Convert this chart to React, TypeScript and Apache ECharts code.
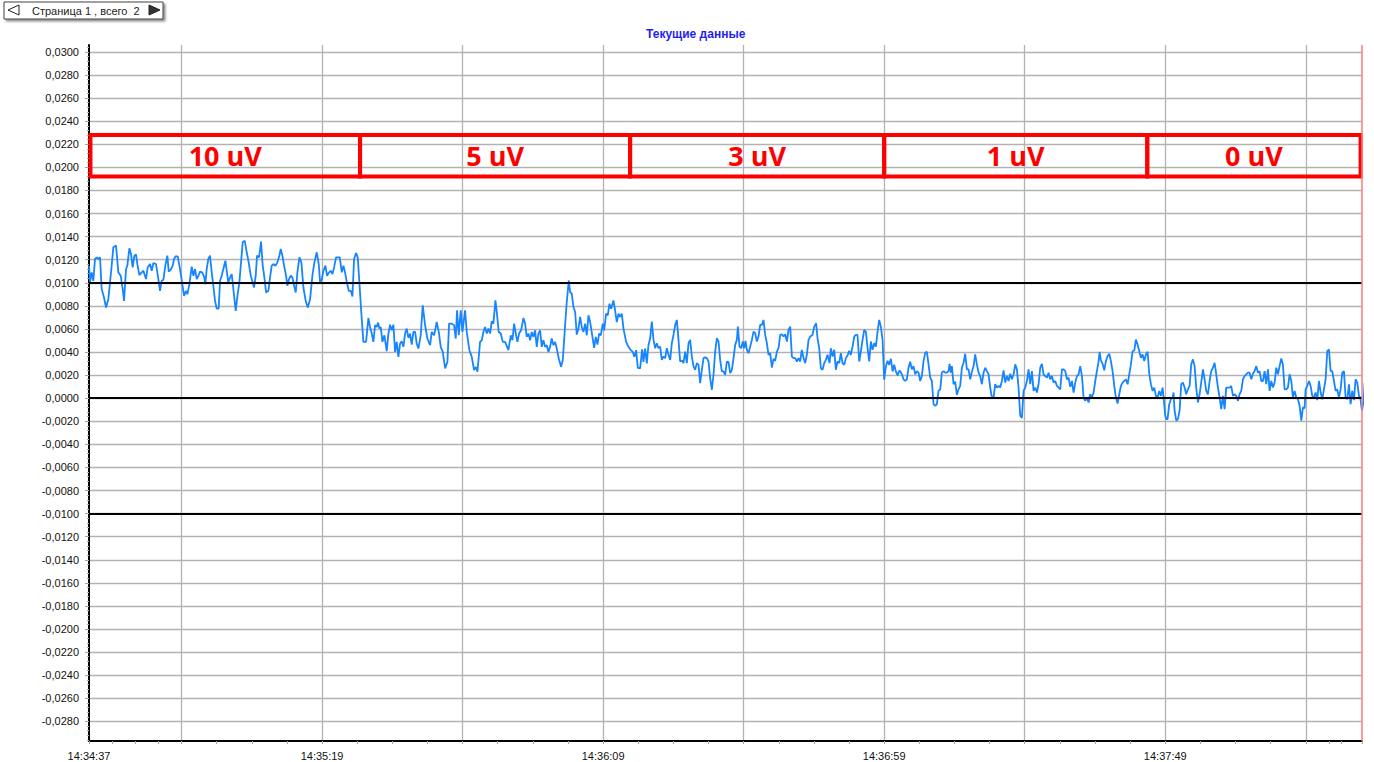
import React, { useEffect, useRef } from "react";
import * as echarts from "echarts";

// Time axis: seconds after 14:34:00
const X_MIN = 37.54; // 14:34:37.5
const X_MAX = 264.0; // 14:38:24
const Y_MIN = -0.0297;
const Y_MAX = 0.0306;

const xLabelTicks = [37.54, 79, 129, 179, 229];
const xGridTicks = [54, 79, 104, 129, 154, 179, 204, 229, 254];
const xStartMinor = [37.54, 41.66, 45.77, 49.89];
const xEndMinor = [258.15, 264];

const yMajorTicks = [
  -0.028, -0.026, -0.024, -0.022, -0.02, -0.018, -0.016, -0.014, -0.012, -0.01,
  -0.008, -0.006, -0.004, -0.002, 0, 0.002, 0.004, 0.006, 0.008, 0.01, 0.012,
  0.014, 0.016, 0.018, 0.02, 0.022, 0.024, 0.026, 0.028, 0.03,
];

const refLines = [0.01, 0, -0.01];

const boxLow = 0.0192;
const boxHigh = 0.0228;
const boxLabels = ["10 uV", "5 uV", "3 uV", "1 uV", "0 uV"];
const boxEdges = [37.8, 85.76, 133.8, 179.0, 225.8, 263.75];

const title = "Текущие данные";
const pagerText = "Страница 1 , всего  2";

// [seconds after 14:34:00, value]
const signal: [number, number][] = [
  [37.54,0.0115],[37.72,0.01003],[38.02,0.0109],[38.31,0.01017],[38.61,0.01206],[38.91,0.0122],[39.2,0.01206],[39.5,0.0122],[39.8,0.00945],[40.21,0.00872],[40.57,0.00786],[40.98,0.00858],[41.28,0.01003],[41.57,0.01148],[41.87,0.01307],[42.35,0.01322],[42.76,0.0109],[43.18,0.01061],[43.53,0.00945],[43.77,0.00843],[44.13,0.01119],[44.36,0.01148],[44.72,0.01299],[45.01,0.01249],[45.31,0.01133],[45.61,0.01235],[45.9,0.01246],[46.14,0.01162],[46.5,0.01067],[46.91,0.0109],[47.21,0.01104],[47.68,0.01032],[47.98,0.01133],[48.4,0.01162],[48.69,0.01104],[48.99,0.01171],[49.46,0.01162],[49.88,0.01032],[50.17,0.0093],[50.47,0.01017],[50.77,0.01026],[51.12,0.01148],[51.48,0.01235],[51.72,0.01096],[52.07,0.01113],[52.43,0.01148],[52.67,0.01206],[52.96,0.01229],[53.32,0.01229],[53.73,0.01119],[54.09,0.01003],[54.45,0.00887],[54.8,0.0093],[55.04,0.00901],[55.4,0.00988],[55.81,0.01139],[56.11,0.01061],[56.4,0.01119],[56.7,0.01032],[57.0,0.01061],[57.29,0.01096],[57.65,0.0109],[58.0,0.01055],[58.24,0.00988],[58.48,0.01119],[58.77,0.01206],[59.07,0.01235],[59.37,0.0109],[59.66,0.00974],[59.96,0.00843],[60.26,0.00777],[60.61,0.00777],[60.85,0.01017],[61.15,0.01061],[61.44,0.01119],[61.8,0.01191],[62.04,0.01104],[62.33,0.01003],[62.63,0.01046],[62.93,0.01075],[63.22,0.00945],[63.64,0.00757],[63.94,0.00887],[64.29,0.01003],[64.59,0.01177],[64.88,0.01351],[65.24,0.01365],[65.6,0.01264],[65.95,0.01177],[66.31,0.01061],[66.66,0.01003],[66.9,0.00959],[67.2,0.01061],[67.43,0.01235],[67.79,0.0122],[68.15,0.01357],[68.44,0.01148],[68.74,0.01046],[69.04,0.00916],[69.45,0.0093],[69.75,0.01046],[70.04,0.01148],[70.34,0.01162],[70.7,0.01148],[71.05,0.01177],[71.41,0.01235],[71.65,0.01293],[71.94,0.01235],[72.24,0.01148],[72.6,0.01061],[72.83,0.00974],[73.13,0.01032],[73.43,0.01061],[73.72,0.01046],[74.02,0.00974],[74.32,0.00916],[74.61,0.0109],[74.97,0.0122],[75.32,0.01177],[75.68,0.00959],[76.09,0.00843],[76.45,0.00786],[76.87,0.00858],[77.28,0.01061],[77.64,0.01177],[78.05,0.01264],[78.41,0.01162],[78.65,0.01003],[78.94,0.01026],[79.24,0.01104],[79.59,0.01148],[79.89,0.01061],[80.25,0.0109],[80.54,0.01104],[80.84,0.01075],[81.14,0.01133],[81.49,0.0122],[81.79,0.0122],[82.15,0.0122],[82.5,0.0109],[82.8,0.01148],[83.09,0.0109],[83.39,0.01009],[83.75,0.0093],[84.1,0.0093],[84.4,0.00881],[84.7,0.01206],[85.05,0.01258],[85.35,0.0122],[85.64,0.01003],[85.94,0.00771],
  [86.35,0.00488],[86.83,0.00488],[87.24,0.00695],[87.54,0.00617],[87.84,0.0056],[88.13,0.00488],[88.43,0.00632],[88.73,0.00617],[88.96,0.00655],[89.2,0.00603],[89.44,0.00617],[89.73,0.00488],[90.09,0.00545],[90.5,0.00407],[90.8,0.0056],[91.1,0.00637],[91.39,0.00588],[91.69,0.00637],[91.99,0.00401],[92.28,0.00488],[92.58,0.00358],[92.88,0.00473],[93.17,0.00494],[93.47,0.00445],[93.77,0.0056],[94.06,0.00603],[94.36,0.00522],[94.66,0.0056],[94.95,0.00465],[95.25,0.00574],[95.55,0.00574],[95.84,0.00473],[96.14,0.0043],[96.55,0.00545],[96.91,0.00804],[97.33,0.00632],[97.74,0.00517],[98.22,0.00459],[98.51,0.00574],[98.93,0.00545],[99.4,0.0066],[99.76,0.00574],[100.11,0.00445],[100.47,0.00401],[100.89,0.00258],[101.3,0.00315],[101.6,0.00646],[102.07,0.00646],[102.49,0.00632],[102.78,0.00517],[103.02,0.00761],[103.32,0.00545],[103.67,0.00761],[103.97,0.00574],[104.44,0.00761],[104.74,0.00574],[105.21,0.00416],[105.63,0.00358],[106.04,0.00243],[106.34,0.00272],[106.64,0.00229],[107.11,0.00488],[107.41,0.00502],[107.7,0.00574],[108.0,0.00617],[108.3,0.0056],[108.6,0.00603],[108.89,0.0056],[109.19,0.00666],[109.48,0.00646],[109.84,0.00847],[110.08,0.00747],[110.43,0.00574],[110.79,0.0056],[111.15,0.00488],[111.56,0.00488],[112.15,0.00416],[112.57,0.00545],[112.87,0.00502],[113.16,0.00646],[113.46,0.0056],[113.75,0.00488],[114.05,0.0056],[114.41,0.00588],[114.82,0.00695],[115.12,0.00646],[115.41,0.00531],[115.71,0.0056],[116.01,0.00502],[116.3,0.00574],[116.6,0.00531],[116.9,0.00588],[117.19,0.00445],[117.49,0.0056],[117.79,0.00588],[118.08,0.00445],[118.38,0.00502],[118.68,0.00445],[118.97,0.00459],[119.27,0.00401],[119.57,0.00445],[119.86,0.00517],[120.16,0.00459],[120.46,0.00488],[120.75,0.0043],[121.11,0.00344],[121.52,0.00272],[121.82,0.00329],[122.24,0.00632],[122.53,0.00833],[122.89,0.0102],[123.13,0.00919],[123.42,0.00905],[123.72,0.0079],[124.02,0.00747],[124.31,0.00551],[124.61,0.00603],[124.91,0.00704],[125.2,0.00617],[125.5,0.00574],[125.8,0.00646],[126.09,0.00545],[126.39,0.00718],[126.69,0.0066],[127.1,0.00531],[127.4,0.00436],[127.69,0.00531],[127.99,0.00465],[128.29,0.0056],[128.58,0.00545],[128.94,0.00646],[129.18,0.00588],[129.53,0.00732],[129.83,0.00718],[130.13,0.00819],[130.42,0.00776],[130.84,0.00847],[131.13,0.00761],[131.43,0.0066],[131.73,0.00732],[132.02,0.00704],[132.32,0.00732],[132.62,0.00603],[133.09,0.00488],[133.51,0.00445],[133.92,0.00416],[134.28,0.00401],[134.57,0.00358],[134.87,0.00416],[135.17,0.00263],[135.58,0.00258],[135.94,0.00424],[136.17,0.00315],[136.47,0.0043],[136.77,0.00301],[137.06,0.00459],
  [137.37,0.00519],[137.66,0.00663],[137.96,0.00505],[138.26,0.00433],[138.55,0.00476],[138.85,0.00433],[139.15,0.00447],[139.44,0.00332],[139.74,0.00361],[140.04,0.00347],[140.33,0.00433],[140.63,0.00376],[140.93,0.00332],[141.22,0.00476],[141.52,0.00548],[141.82,0.00635],[142.11,0.00678],[142.41,0.00505],[142.7,0.00318],[143.0,0.00327],[143.3,0.00304],[143.59,0.00404],[143.89,0.00304],[144.19,0.00476],[144.48,0.00505],[144.78,0.00361],[145.08,0.00275],[145.37,0.00246],[145.67,0.00304],[145.97,0.00289],[146.26,0.00131],[146.56,0.00246],[146.86,0.00347],[147.15,0.00353],[147.45,0.00347],[147.75,0.00318],[148.04,0.00174],[148.34,0.00073],[148.64,0.00203],[148.93,0.00404],[149.23,0.00519],[149.53,0.00491],[149.82,0.00332],[150.12,0.00232],[150.42,0.00232],[150.71,0.00203],[151.01,0.00318],[151.31,0.00312],[151.6,0.00217],[151.9,0.00246],[152.2,0.00347],[152.49,0.00462],[152.79,0.00505],[152.97,0.0062],[153.26,0.00447],[153.56,0.00433],[153.86,0.00491],[154.09,0.00433],[154.33,0.00496],[154.57,0.00419],[154.86,0.0039],[155.16,0.00447],[155.46,0.00505],[155.75,0.00577],[156.05,0.00563],[156.35,0.00491],[156.64,0.00534],[156.94,0.00635],[157.24,0.00635],[157.53,0.00678],[157.83,0.00548],[158.13,0.00476],[158.42,0.00376],[158.72,0.0039],[159.02,0.00266],[159.31,0.00341],[159.61,0.00324],[159.91,0.00404],[160.2,0.00433],[160.5,0.00548],[160.8,0.00554],[161.09,0.00534],[161.39,0.00554],[161.69,0.00491],[161.98,0.00591],[162.28,0.0062],[162.58,0.00361],[162.87,0.00347],[163.17,0.00347],[163.46,0.00318],[163.76,0.00347],[164.06,0.00318],[164.35,0.00419],[164.65,0.00347],[164.95,0.00304],[165.24,0.00376],[165.54,0.00505],[165.84,0.00534],[166.25,0.00548],[166.55,0.0062],[166.9,0.00649],[167.14,0.00519],[167.44,0.00433],[167.73,0.0026],[168.03,0.00246],[168.33,0.00304],[168.62,0.00332],[168.92,0.00376],[169.28,0.00304],[169.51,0.00433],[169.81,0.00361],[170.11,0.00419],[170.4,0.00246],[170.7,0.00318],[171.0,0.00304],[171.29,0.0039],[171.59,0.00304],[171.89,0.00289],[172.18,0.00347],[172.48,0.0037],[172.78,0.0041],[173.07,0.00376],[173.37,0.00447],[173.67,0.00534],[173.96,0.00548],[174.26,0.00548],[174.56,0.00318],[174.85,0.00404],[175.15,0.00505],[175.45,0.00591],[175.74,0.00577],[176.04,0.00433],[176.34,0.00318],[176.63,0.00491],[176.93,0.00419],[177.23,0.00476],[177.52,0.00447],[177.82,0.00577],[178.11,0.00678],[178.41,0.0062],[178.71,0.00505],[179.0,0.0016],[179.3,0.00275],[179.6,0.00324],[179.89,0.00289],[180.19,0.00341],[180.49,0.00232],[180.78,0.00289],[181.08,0.00232],[181.38,0.00197],[181.67,0.00237],
  [181.85,0.00235],[182.14,0.00207],[182.44,0.00164],[182.74,0.00149],[183.03,0.00164],[183.33,0.00264],[183.63,0.00316],[183.92,0.0025],[184.22,0.00278],[184.52,0.00207],[184.81,0.00235],[185.11,0.00221],[185.41,0.00149],[185.7,0.00192],[186.0,0.00321],[186.3,0.00393],[186.59,0.00402],[186.89,0.00293],[187.19,0.00178],[187.48,0.00149],[187.78,-0.00052],[188.08,-0.00066],[188.37,-0.00052],[188.67,0.00063],[188.97,0.00077],[189.26,0.00221],[189.56,0.00235],[189.86,0.00221],[190.15,0.00221],[190.45,0.00235],[190.63,0.00298],[190.86,0.00221],[191.04,0.00278],[191.34,0.00121],[191.63,0.00143],[191.93,0.00029],[192.23,0.00077],[192.52,0.00106],[192.82,0.00264],[193.12,0.00307],[193.41,0.00385],[193.71,0.0025],[194.01,0.0025],[194.3,0.00164],[194.6,0.0023],[194.9,0.00278],[195.19,0.00379],[195.49,0.00293],[195.79,0.00221],[196.08,0.00192],[196.38,0.00121],[196.68,0.00221],[196.97,0.00264],[197.27,0.00235],[197.57,0.00207],[197.86,0.00092],[198.16,0.00006],[198.46,0.00006],[198.75,0.00121],[199.05,0.00092],[199.35,0.00106],[199.64,0.00092],[199.94,0.00149],[200.24,0.00241],[200.53,0.00135],[200.83,0.00192],[201.13,0.00149],[201.42,0.00212],[201.72,0.00164],[202.02,0.00207],[202.31,0.00293],[202.61,0.0025],[202.9,0.00092],[203.2,-0.00152],[203.5,-0.00172],[203.79,0.00063],[204.09,0.00092],[204.39,0.00149],[204.68,0.0025],[204.98,0.00121],[205.28,0.00235],[205.57,0.00063],[205.87,0.00092],[206.17,0.00049],[206.46,0.00121],[206.76,0.00264],[207.06,0.00298],[207.35,0.00207],[207.65,0.00192],[207.95,0.00178],[208.24,0.00221],[208.54,0.00164],[208.84,0.00192],[209.13,0.00135],[209.43,0.00149],[209.73,0.00106],[210.02,0.00092],[210.32,0.00077],[210.62,0.0025],[210.91,0.0025],[211.21,0.00235],[211.51,0.00164],[211.8,0.00178],[212.1,0.00098],[212.4,0.00149],[212.69,0.00049],[212.99,0.00135],[213.29,0.00192],[213.58,0.00207],[213.88,0.00278],[214.18,0.00192],[214.47,0.00006],[214.77,-0.00023],[215.07,0.00006],[215.36,-0.00037],[215.66,0.00034],[215.96,0.00006],[216.25,0.00049],[216.55,0.00149],[216.84,0.00235],[217.14,0.00321],[217.32,0.00402],[217.55,0.00327],[217.85,0.00298],[218.15,0.00241],[218.44,0.00321],[218.74,0.00364],[219.04,0.00385],[219.33,0.00321],[219.63,0.00235],[219.93,0.00106],[220.22,0.00006],[220.52,-0.00046],[220.82,0.00034],[221.11,0.00106],[221.41,0.00135],[221.71,0.00149],[222.0,0.00164],[222.3,0.00121],[222.6,0.00207],[222.89,0.00293],[223.19,0.00407],[223.49,0.00413],[223.78,0.00508],[224.08,0.00465],[224.38,0.00407],[224.67,0.0035],[224.97,0.00379],[225.27,0.00321],[225.56,0.00379],[225.86,0.00402],[226.16,0.00207],[226.45,0.00121],[226.75,0.00063],[227.04,0.00092],[227.34,0.0002],[227.64,0.00006],[227.93,0.00063],[228.23,0.0002],[228.53,0.00092],[228.7,0.00006],[229.0,-0.00152],
  [229.18,-0.00181],[229.41,-0.00181],[229.71,-0.00052],[230.01,-0.00009],[230.3,0.00006],[230.48,0.00049],[230.66,-0.00109],[230.96,-0.00195],[231.25,-0.00181],[231.55,-0.00109],[231.84,0.00121],[232.14,0.00135],[232.44,0.00092],[232.73,0.00034],[233.03,0.00077],[233.33,0.00106],[233.62,0.00293],[233.92,0.00336],[234.22,0.00278],[234.51,0.00092],[234.81,-0.00037],[235.11,0.00034],[235.4,0.00135],[235.7,0.0025],[236.0,0.00164],[236.29,0.00063],[236.59,0.00034],[236.89,0.00149],[237.18,0.00235],[237.48,0.00264],[237.78,0.00307],[238.07,0.00207],[238.37,0.00092],[238.67,0.00006],[238.96,-0.00095],[239.26,0.0002],[239.56,-0.00095],[239.85,0.00092],[240.15,0.00092],[240.45,0.00092],[240.74,0.00106],[241.04,0.0002],[241.33,0.00034],[241.63,0.0002],[241.93,-0.00023],[242.22,0.00034],[242.52,0.00063],[242.82,0.00164],[243.11,0.00192],[243.41,0.00207],[243.71,0.00221],[244.0,0.00221],[244.3,0.00164],[244.6,0.00212],[244.89,0.00235],[245.19,0.00278],[245.49,0.00221],[245.78,0.00235],[246.08,0.00149],[246.38,0.00149],[246.67,0.00235],[246.97,0.00121],[247.27,0.0025],[247.56,0.00063],[247.86,0.00149],[248.16,0.00092],[248.45,0.00135],[248.75,0.00264],[249.05,0.00207],[249.34,0.00278],[249.64,0.00344],[249.93,0.00293],[250.23,0.00077],[250.53,0.00077],[250.82,0.00092],[251.12,0.00207],[251.42,0.00149],[251.71,0.00006],[252.01,0.00063],[252.31,0.00006],[252.6,-0.00009],[252.9,-0.00066],[253.2,-0.00195],[253.49,-0.0008],[253.79,-0.00086],[253.97,0.00077],[254.26,0.00106],[254.56,0.00149],[254.86,0.00106],[255.15,0.0002],[255.45,0.00006],[255.75,0.00049],[256.04,-0.00017],[256.34,0.00149],[256.64,0.00049],[256.93,-0.00009],[257.23,0.00077],[257.53,0.00164],[257.82,0.00407],[258.12,0.00422],[258.42,0.00235],[258.71,0.00235],[259.01,0.00149],[259.31,0.00063],[259.6,0.00077],[259.9,0.00006],[260.19,0.00077],[260.49,0.00221],[260.79,0.00235],[261.08,0.00006],[261.38,-0.00009],[261.68,0.00121],[261.97,-0.00052],[262.27,0.00063],[262.57,-0.00017],[262.86,0.00164],[263.16,0.00135],[263.46,0.0002],[263.7,0.00006],[263.99,-0.00109],[264.29,-0.00023],[264.47,0.00135],
];

const FONT = "'Liberation Sans', Arial, sans-serif";

function fmtTime(sec: number): string {
  const total = 14 * 3600 + 34 * 60 + Math.floor(sec + 1e-6);
  const h = Math.floor(total / 3600);
  const m = Math.floor((total % 3600) / 60);
  const s = total % 60;
  const p = (n: number) => (n < 10 ? "0" + n : "" + n);
  return `${p(h)}:${p(m)}:${p(s)}`;
}

export default function App() {
  const ref = useRef<HTMLDivElement>(null);

  useEffect(() => {
    if (!ref.current) return;
    const chart = echarts.init(ref.current, undefined, { renderer: "svg" });

    const xMinor: number[] = [...xStartMinor];
    for (let i = 0; i < xGridTicks.length; i++) {
      for (let k = 0; k < 4; k++) {
        const v = xGridTicks[i] + k * 6.25;
        if (v <= X_MAX) xMinor.push(v);
      }
    }
    xEndMinor.forEach((v) => xMinor.push(v));

    const yMinor: number[] = [];
    for (let k = -74; k <= 76; k++) {
      const v = +(k * 0.0004).toFixed(5);
      if (v >= Y_MIN && v <= Y_MAX) yMinor.push(v);
    }

    const boxes = boxLabels.map((name, i) => [
      { name, xAxis: boxEdges[i], yAxis: boxLow },
      { xAxis: boxEdges[i + 1], yAxis: boxHigh },
    ]);

    const gridColor = "#b3b3b3";

    const option: any = {
      animation: false,
      backgroundColor: "#ffffff",
      title: {
        text: title,
        left: 641,
        top: 23,
        textStyle: { color: "#1f1ff0", fontSize: 12, fontWeight: "bold", fontFamily: FONT },
      },
      grid: { left: 89, top: 45, width: 1273, height: 696, containLabel: false },
      xAxis: [
        {
          type: "value",
          min: X_MIN,
          max: X_MAX,
          position: "bottom",
          axisLine: { show: true, onZero: false, lineStyle: { color: "#000", width: 2 } },
          axisTick: { show: false, customValues: xGridTicks },
          axisLabel: {
            customValues: xLabelTicks,
            formatter: (v: number) => fmtTime(v),
            margin: 9,
            fontSize: 11,
            color: "#111",
            fontFamily: FONT,
          },
          splitLine: { show: true, lineStyle: { color: gridColor, width: 1.3 } },
        },
        {
          type: "value",
          min: X_MIN,
          max: X_MAX,
          position: "bottom",
          axisLine: { show: false, onZero: false },
          axisTick: { show: true, customValues: xMinor, length: 3, lineStyle: { color: "#a0a0a0", width: 1 } },
          axisLabel: { show: false },
          splitLine: { show: false },
        },
      ],
      yAxis: [
        {
          type: "value",
          min: Y_MIN,
          max: Y_MAX,
          position: "left",
          axisLine: { show: true, onZero: false, lineStyle: { color: "#000", width: 2 } },
          axisTick: { show: true, customValues: yMajorTicks, length: 4, lineStyle: { color: "#a0a0a0", width: 1 } },
          axisLabel: {
            customValues: yMajorTicks,
            formatter: (v: number) => v.toFixed(4).replace(".", ","),
            margin: 10,
            fontSize: 11,
            color: "#111",
            fontFamily: FONT,
          },
          splitLine: { show: true, lineStyle: { color: gridColor, width: 1.3 } },
        },
        {
          type: "value",
          min: Y_MIN,
          max: Y_MAX,
          position: "left",
          axisLine: { show: false, onZero: false },
          axisTick: { show: true, customValues: yMinor, length: 2, lineStyle: { color: "#aaaaaa", width: 1 } },
          axisLabel: { show: false },
          splitLine: { show: false },
        },
      ],
      graphic: [
        {
          type: "rect",
          shape: { x: 4, y: 2, width: 159, height: 17 },
          style: {
            fill: "#fff",
            stroke: "#444",
            lineWidth: 1,
            shadowBlur: 2,
            shadowOffsetX: 2,
            shadowOffsetY: 2,
            shadowColor: "rgba(0,0,0,0.45)",
          },
        },
        {
          type: "polygon",
          shape: { points: [[19, 5], [19, 15], [8, 10]] },
          style: { fill: "#fff", stroke: "#222", lineWidth: 1 },
        },
        {
          type: "polygon",
          shape: { points: [[149, 5], [149, 15], [160, 10]] },
          style: { fill: "#333", stroke: "#222", lineWidth: 1 },
        },
        {
          type: "text",
          x: 32,
          y: 10.5,
          style: { text: pagerText, fill: "#222", font: `11px ${FONT}`, verticalAlign: "middle" },
        },
      ],
      series: [
        {
          type: "line",
          xAxisIndex: 0,
          yAxisIndex: 0,
          data: signal,
          symbol: "none",
          showSymbol: false,
          clip: true,
          lineStyle: { color: "#1685ff", width: 1.8 },
          markLine: {
            silent: true,
            symbol: "none",
            label: { show: false },
            data: [
              ...refLines.map((v) => ({ yAxis: v, lineStyle: { color: "#000", width: 2, type: "solid" } })),
              { xAxis: X_MAX - 0.05, lineStyle: { color: "#ff7878", width: 1.5, type: "solid" } },
            ],
          },
          markArea: {
            silent: true,
            itemStyle: { color: "rgba(0,0,0,0)", borderColor: "#ff0000", borderWidth: 4 },
            label: {
              show: true,
              position: "inside",
              color: "#ff0000",
              fontSize: 27,
              fontWeight: "bold",
              fontFamily: "'Open Sans', 'Liberation Sans', sans-serif",
            },
            data: boxes,
          },
        },
      ],
    };

    chart.setOption(option);
    return () => chart.dispose();
  }, []);

  return (
    <div
      ref={ref}
      style={{ position: "fixed", left: 0, top: 0, width: "1374px", height: "762px", background: "#fff" }}
    />
  );
}
